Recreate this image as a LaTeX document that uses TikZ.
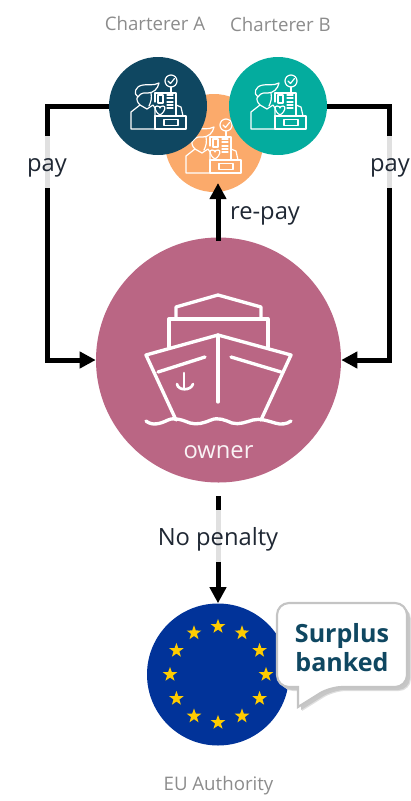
\documentclass[tikz,border=0pt]{standalone}
\usepackage{fontspec}
\setmainfont{Open Sans}
\usetikzlibrary{arrows.meta,shapes.geometric}
\definecolor{navy}{HTML}{0F4761}
\definecolor{teal2}{HTML}{04AC9E}
\definecolor{peach}{HTML}{FBAA6B}
\definecolor{rose}{HTML}{BA6684}
\definecolor{euB}{HTML}{013399}
\definecolor{euY}{HTML}{FFCC00}
\definecolor{captc}{HTML}{8C8C8C}
\definecolor{ink}{HTML}{1F2733}
\definecolor{edgeg}{HTML}{C4C4C4}
\tikzset{
 x=0.75pt,y=-0.75pt,
 disc/.style={circle,inner sep=0pt,minimum size=#1*0.75pt},
 conn/.style={line width=3.75pt,black,line join=miter,-{Triangle[length=12pt,width=12pt]}},
 lbl/.style={anchor=base,font=\fontsize{17.8}{20}\selectfont,text=ink,fill=white,fill opacity=0.88,text opacity=1,inner xsep=1pt,inner ysep=0pt,text height=26.6pt,text depth=12.75pt},
 lblb/.style={anchor=base,font=\fontsize{17.8}{20}\selectfont,text=ink,inner sep=1pt},
 captn/.style={anchor=base,font=\fontsize{14}{17}\selectfont,text=captc},
 ico/.style={white,line width=0.9pt,line join=round,line cap=round},
 ship/.style={white,line width=2.5pt,line join=round,line cap=round},
 star5/.style={star,star points=5,star point ratio=2.5,fill=euY,inner sep=0pt,minimum size=11.5pt}
}
\newcommand{\bizicon}[2]{%
 \begin{scope}[shift={(#1,#2)}]
  \draw[ico] (-3,0)--(-3,21)--(-27,21)--(-27,4)--(-18,-3)--(-11,1)--(-5,-3)--(-3,0);
  \draw[ico] (-3,21)--(-3,8)--(28,8)--(28,21)--cycle;
  \draw[ico] (6,11.5) rectangle (20,17.5);
  \draw[ico] (-18,-3) .. controls (-21,-6) and (-22,-9) .. (-20,-12);
  \draw[ico] (-20,-11) .. controls (-25,-14) and (-23,-22) .. (-15,-23) .. controls (-10,-24) and (-5,-22) .. (1,-25) .. controls (0,-19) and (-5,-15) .. (-10,-15) .. controls (-13,-15) and (-17,-16) .. (-20,-11);
  \draw[ico] (-7,-15) .. controls (-6,-10) and (-7,-6) .. (-9,-2);
  \draw[ico] (-3,-6)--(-3,-15)--(18,-15)--(18,8);
  \draw[ico] (0,-13) rectangle (5,-5);
  \draw[ico] (9,-13)--(15,-13) (9,-10)--(15,-10) (9,-6)--(15,-6) (9,-3)--(15,-3) (9,0)--(15,0);
  \draw[ico] (2,7) .. controls (-4,3) and (-4,-2) .. (-1,-2) .. controls (1,-2) and (2,-1) .. (2,0) .. controls (2,-1) and (3,-2) .. (5,-2) .. controls (8,-2) and (8,3) .. (2,7);
  \draw[ico] (18,-3)--(23,-1)--(25,8);
  \draw[ico] (13,-15)--(13,-21);
  \draw[ico] (13,-27) circle (6);
  \draw[ico] (10,-27)--(12.5,-24.5)--(16.5,-29.5);
 \end{scope}}
\begin{document}
\begin{tikzpicture}
\useasboundingbox (0,0) rectangle (411,801);
% nodes
\node[disc=98,fill=peach] (C) at (214,143) {};
\bizicon{213}{152}
\node[disc=98,fill=navy] (A) at (158,106) {};
\bizicon{158}{108}
\node[disc=98,fill=teal2] (B) at (278,106) {};
\bizicon{278}{108}
\node[disc=245,fill=rose] (O) at (218.5,360) {};
\node[disc=142,fill=euB] (E) at (218,674.5) {};
% captions
\node[captn] (capA) at (155,30) {Charterer A};
\node[captn] (capB) at (280.5,31) {Charterer B};
\node[captn] (capE) at (218.5,790) {EU Authority};
% connectors
\coordinate (lc) at (47,106);
\coordinate (ld) at (47,360);
\coordinate (rc) at (389,106);
\coordinate (rd) at (389,360);
\draw[conn] (A.west) -- (lc) -- (ld) -- (O.west);
\draw[conn] (B.east) -- (rc) -- (rd) -- (O.east);
\coordinate (rs) at (218,241);
\coordinate (rt) at (218,183);
\draw[conn] (rs) -- (rt);
\coordinate (pt) at (218,496);
\draw[conn] (pt) -- (E.north);
\node[lbl] (p1) at (47,171) {pay};
\node[lbl] (p2) at (390,171) {pay};
\node[lblb] (rp) at (265,219) {re-pay};
\node[lbl] (np) at (218,545) {No penalty};
% ship
\draw[ship] (176,318)--(176,307)--(218,295)--(261,307)--(261,318);
\draw[ship] (169,347)--(169,319)--(268,319)--(268,347);
\draw[ship] (176,420)--(146,355)--(218,335)--(291,355)--(261,420);
\draw[ship] (218,335)--(218,402);
\draw[ship] (158,372)--(205,357);
\draw[ship] (231,357)--(281,372);
\draw[ship] (146,421) .. controls (152,426) and (160,424) .. (168,420) .. controls (175,417) and (182,420) .. (190,423) .. controls (197,425) and (204,423) .. (211,420) .. controls (218,417) and (225,420) .. (232,423) .. controls (239,425) and (246,422) .. (253,420) .. controls (260,418) and (268,421) .. (275,423) .. controls (281,425) and (287,424) .. (291,421);
\draw[white,line width=2pt,line cap=round] (184,373)--(184,389);
\draw[white,line width=2pt,line cap=round] (177,384) .. controls (178,391) and (191,391) .. (193,384);
\node[anchor=base,font=\fontsize{17.8}{20}\selectfont,text=white!92!rose] (ow) at (218.5,458) {owner};
% stars
\foreach \a in {0,30,...,330}{
 \node[star5] (s\a) at ({218+48*cos(\a)},{674.5+48*sin(\a)}) {};
}
% callout
\def\bub{(340,603) [rounded corners=9pt] -- (407,603) -- (407,687) -- (330,687) [sharp corners] -- (298,707) -- (298,687) [rounded corners=9pt] -- (277,687) -- (277,603) -- cycle}
\fill[black!12,shift={(4,4)}] \bub;
\fill[black!22,shift={(3,3)}] \bub;
\draw[edgeg,fill=white,line width=1.6pt] \bub;
\node[align=center,font=\fontsize{18.8}{21.75}\bfseries,text=navy,inner sep=0pt] (cb) at (342,647.5) {Surplus\\banked};
\end{tikzpicture}
\end{document}
